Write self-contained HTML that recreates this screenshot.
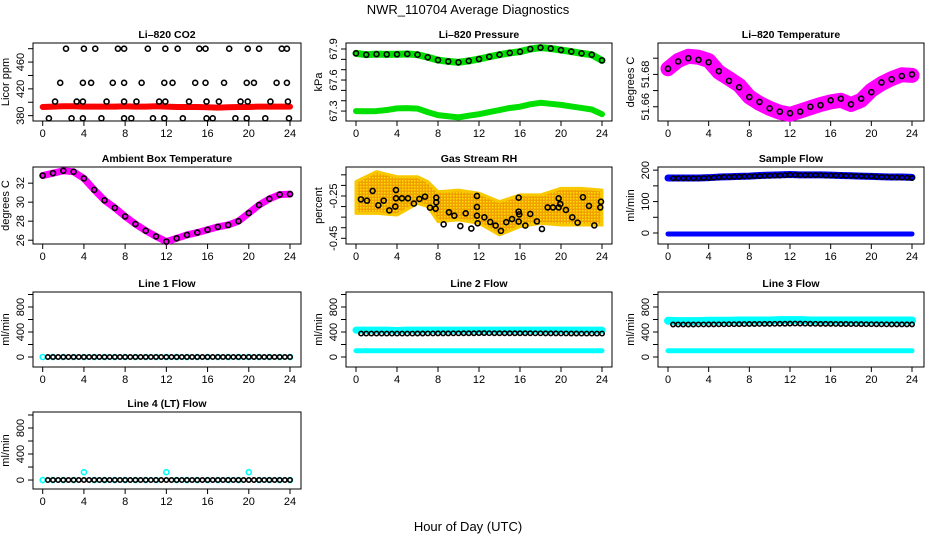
<!DOCTYPE html>
<html><head><meta charset="utf-8"><style>
html,body{margin:0;padding:0;background:#fff;}
svg{display:block;font-family:"Liberation Sans",Arial,sans-serif;}
</style></head><body>
<svg id="chart" width="936" height="540" viewBox="0 0 936 540">
<defs>
<pattern id="rhpat" width="3" height="3" patternUnits="userSpaceOnUse"><rect width="3" height="3" fill="#f0a000"/><rect width="1.5" height="1.5" fill="#ffe000"/></pattern>
</defs>
<text x="468" y="14" font-size="13" text-anchor="middle">NWR_110704  Average Diagnostics</text>
<text x="468" y="531" font-size="13" text-anchor="middle">Hour of Day (UTC)</text>
</svg>
<script>
const hours = [0,1,2,3,4,5,6,7,8,9,10,11,12,13,14,15,16,17,18,19,20,21,22,23,24];
const halfHours = [0.5,1,1.5,2,2.5,3,3.5,4,4.5,5,5.5,6,6.5,7,7.5,8,8.5,9,9.5,10,10.5,11,11.5,12,12.5,13,13.5,14,14.5,15,15.5,16,16.5,17,17.5,18,18.5,19,19.5,20,20.5,21,21.5,22,22.5,23,23.5,24];
const xTicks = [0,4,8,12,16,20,24];
// CO2
const co2Red = [393,393.5,394,394,393.5,393.5,393.5,393.5,394,393.5,393.5,394,393.5,393,393,393,392.5,392,392.5,393,393,393.5,393.5,393.5,393.5];
const co2BlackX = [2.26,4.0,5.1,7.3,7.9,10.2,11.9,13.1,15.2,15.8,18.1,19.9,21.0,23.2,23.7,1.7,3.9,4.7,6.8,7.9,9.6,11.8,12.6,14.8,15.8,17.6,19.8,20.5,22.7,23.7,1.2,3.3,3.9,6.2,7.9,9.1,11.3,11.9,14.2,15.9,17.1,19.2,19.9,22.1,23.8,0.6,2.8,3.9,5.7,7.9,8.6,10.7,11.8,13.6,15.9,16.5,18.7,19.8,21.6,23.9];
const co2BlackY = [480,480,480,480,480,480,480,480,480,480,480,480,480,480,480,429,429,429,429,429,429,429,429,429,429,429,429,429,429,429,401,401,401,401,401,401,401,401,401,401,401,401,401,401,401,376,376,376,376,376,376,376,376,376,376,376,376,376,376,376];
// Pressure
const presHours = [0,1,2,3,4,5,6,7,8,9,10,11,12,13,14,15,16,17,18,19,20,21,22,23,24];
const presUpper = [67.858,67.845,67.85,67.848,67.849,67.852,67.845,67.82,67.793,67.78,67.771,67.785,67.803,67.825,67.845,67.862,67.874,67.9,67.913,67.905,67.89,67.875,67.858,67.845,67.79];
const presLower = [67.3,67.298,67.3,67.31,67.326,67.328,67.324,67.29,67.261,67.25,67.239,67.255,67.27,67.29,67.31,67.33,67.342,67.365,67.38,67.37,67.36,67.345,67.33,67.315,67.27];
// Temperature
const tempVals = [51.6835,51.6886,51.6912,51.6906,51.6886,51.6814,51.6774,51.6733,51.6661,51.6621,51.659,51.6566,51.6553,51.6573,51.6594,51.6614,51.663,51.664,51.6614,51.664,51.6702,51.6743,51.6774,51.6798,51.6794];
const tempBlack = [51.6835,51.6880,51.6900,51.6890,51.6875,51.6820,51.6760,51.6720,51.6660,51.6630,51.6590,51.6570,51.6560,51.6570,51.6600,51.6610,51.6640,51.6650,51.6615,51.6650,51.6690,51.6750,51.6770,51.6790,51.6800];
// Ambient
const ambVals = [32.8,33.05,33.3,33.2,32.5,31.3,30.2,29.4,28.5,27.7,27.0,26.4,25.85,26.2,26.55,26.8,27.1,27.4,27.6,28.0,28.85,29.7,30.35,30.8,30.85];
// RH
const rhHours = [0,2,4,6,7,8,10,12,14,16,18,20,22,24];
const rhHi = [-0.182,-0.135,-0.159,-0.159,-0.182,-0.23,-0.222,-0.237,-0.277,-0.245,-0.245,-0.214,-0.214,-0.222];
const rhLo = [-0.332,-0.332,-0.34,-0.285,-0.30,-0.371,-0.363,-0.379,-0.434,-0.395,-0.379,-0.387,-0.387,-0.387];
const rhBlackX = [0.48,1.07,1.62,2.18,2.70,3.25,3.83,3.90,3.90,4.48,5.07,5.65,6.18,6.73,7.22,7.77,7.83,7.83,8.55,9.07,9.59,10.18,10.7,11.25,11.8,11.8,11.8,11.87,12.52,13.1,13.62,14.14,14.66,15.22,15.87,15.87,15.87,15.93,16.52,17.0,17.65,18.14,18.7,19.22,19.77,19.77,19.93,20.48,21.1,21.62,22.14,22.73,23.25,23.83,23.9];
const rhBlackY = [-0.266,-0.272,-0.226,-0.294,-0.272,-0.318,-0.300,-0.261,-0.222,-0.261,-0.261,-0.286,-0.264,-0.253,-0.305,-0.310,-0.280,-0.258,-0.384,-0.327,-0.343,-0.392,-0.332,-0.404,-0.25,-0.302,-0.343,-0.379,-0.351,-0.373,-0.390,-0.415,-0.374,-0.359,-0.258,-0.324,-0.371,-0.337,-0.390,-0.335,-0.370,-0.406,-0.304,-0.304,-0.304,-0.261,-0.288,-0.316,-0.351,-0.376,-0.256,-0.297,-0.389,-0.304,-0.277];
// Sample flow
const sampleUpper = [175,175,175,175,176,178,179,180,181,183,184,185,186,185,185,185,184,183,182,181,180,179,178,178,177];
const sampleLower = [-3,-3,-3,-3,-3,-3,-3,-3,-3,-3,-3,-3,-3,-3,-3,-3,-3,-3,-3,-3,-3,-3,-3,-3,-3];
const sampleBlack = [174,174,174,174,174,174,175,175,176,177,178,178,179,179,180,180,181,181,182,182,183,183,184,185,185,184,184,184,184,184,183,183,183,183,182,182,181,181,180,180,179,178,178,177,177,176,176,175];
// Line flows
const line1Cyan = [0,0,0,0,0,0,0,0,0,0,0,0,0,0,0,0,0,0,0,0,0,0,0,0,0];
const line1Black = [0,0,0,0,0,0,0,0,0,0,0,0,0,0,0,0,0,0,0,0,0,0,0,0,0,0,0,0,0,0,0,0,0,0,0,0,0,0,0,0,0,0,0,0,0,0,0,0];
const line2Upper = [430,430,430,430,425,430,430,430,430,430,430,430,430,430,430,430,430,430,430,430,430,430,430,430,430];
const line2Lower = [100,100,100,100,100,100,100,100,100,100,100,100,100,100,100,100,100,100,100,100,100,100,100,100,100];
const line2Black = [375,375,375,375,375,375,375,375,375,375,375,376,376,377,377,378,378,378,379,379,380,380,380,382,382,381,380,380,380,380,380,380,380,380,379,379,378,378,378,377,377,376,376,375,375,375,375,375];
const line3Upper = [580,575,575,575,580,580,580,585,585,585,585,590,590,590,585,585,585,585,585,585,585,585,585,585,585];
const line3Lower = [100,100,100,100,100,100,100,100,100,100,100,100,100,100,100,100,100,100,100,100,100,100,100,100,100];
const line3Black = [520,520,520,520,520,521,521,522,522,523,523,525,525,526,527,528,528,529,530,530,531,532,532,534,535,534,533,532,531,530,530,530,529,528,528,527,527,526,525,525,524,523,523,522,522,522,522,522];
const line4Cyan = [0,0,0,0,120,0,0,0,0,0,0,0,120,0,0,0,0,0,0,0,120,0,0,0,0];
const line4Black = [0,0,0,0,0,0,0,0,0,0,0,0,0,0,0,0,0,0,0,0,0,0,0,0,0,0,0,0,0,0,0,0,0,0,0,0,0,0,0,0,0,0,0,0,0,0,0,0];

const NS='http://www.w3.org/2000/svg';
const svg=document.getElementById('chart');
function mk(tag,attrs,parent){const e=document.createElementNS(NS,tag);for(const k in attrs)e.setAttribute(k,attrs[k]);(parent||svg).appendChild(e);return e;}
const cols=[{l:33,r:301,h0:42.7,h24:290},{l:346,r:612,h0:356,h24:602},{l:658,r:924,h0:668,h24:912}];
const rows=[{t:43,b:121},{t:167,b:244},{t:292,b:367},{t:412,b:489}];

function panel(name,title,ci,ri,ymin,ymax,ylabel,yTicks,yLabels){
  const c=cols[ci],r=rows[ri];
  const g=mk('g',{});
  
  
  const sx=h=>c.h0+(h/24)*(c.h24-c.h0);
  const sy=v=>r.b-(v-ymin)/(ymax-ymin)*(r.b-r.t);
  const t=mk('text',{x:(c.l+c.r)/2,y:r.t-5,'font-size':10.5,'font-weight':'bold','text-anchor':'middle'},g);
  t.textContent=title;
  
  
  const box=mk('rect',{x:c.l,y:r.t,width:c.r-c.l,height:r.b-r.t,fill:'none',stroke:'#000','stroke-width':1},g);
  
  
  const xa=mk('g',{},g);
  
  
  mk('line',{x1:sx(0),x2:sx(24),y1:r.b,y2:r.b,stroke:'#000'},xa);
  xTicks.forEach(h=>{mk('line',{x1:sx(h),x2:sx(h),y1:r.b,y2:r.b+5,stroke:'#000'},xa);
    const tl=mk('text',{x:sx(h),y:r.b+16,'font-size':11,'text-anchor':'middle'},xa);tl.textContent=h;
    
    });
  const ya=mk('g',{},g);
  
  
  mk('line',{x1:c.l,x2:c.l,y1:sy(yTicks[0]),y2:sy(yTicks[yTicks.length-1]),stroke:'#000'},ya);
  yTicks.forEach(v=>mk('line',{x1:c.l-5,x2:c.l,y1:sy(v),y2:sy(v),stroke:'#000'},ya));
  yLabels.forEach(v=>{const y=sy(v);const tl=mk('text',{x:c.l-9,y:y,'font-size':11,'text-anchor':'middle',transform:`rotate(-90 ${c.l-9} ${y})`},ya);tl.textContent=v;
    
    });
  const yt=mk('text',{x:c.l-24,y:(r.t+r.b)/2,'font-size':11,'text-anchor':'middle',transform:`rotate(-90 ${c.l-24} ${(r.t+r.b)/2})`},g);
  yt.textContent=ylabel;
  
  
  return {g,sx,sy};
}
function band(p,xs,ys,color,w,name){
  const pts=xs.map((h,i)=>p.sx(h)+','+p.sy(ys[i])).join(' ');
  const e=mk('polyline',{points:pts,fill:'none',stroke:color,'stroke-width':w,'stroke-linejoin':'round','stroke-linecap':'round'},p.g);
  
  
}
function dots(p,xs,ys,color,name,rad){
  xs.forEach((h,i)=>{const e=mk('circle',{cx:p.sx(h),cy:p.sy(ys[i]),r:rad||2.5,fill:'none',stroke:color,'stroke-width':1.6},p.g);
    
    });
}

let p;
p=panel('co2-panel','Li–820 CO2',0,0,372,488.5,'Licor ppm',[380,400,420,440,460,480],[380,420,460]);
band(p,hours,co2Red,'#ff0000',6,'co2-red-series');
dots(p,co2BlackX,co2BlackY,'#000','co2-point');

p=panel('pressure-panel','Li–820 Pressure',1,0,67.204,67.958,'kPa',[67.3,67.4,67.5,67.6,67.7,67.8,67.9],[67.3,67.6,67.9]);
band(p,presHours,presUpper,'#00e000',7,'pressure-upper-series');
band(p,presHours,presLower,'#00e000',6,'pressure-lower-series');
dots(p,presHours,presUpper,'#000','pressure-point',2.5);

p=panel('temperature-panel','Li–820 Temperature',2,0,51.6512,51.6994,'degrees C',[51.66,51.67,51.68,51.69],[51.66,51.68]);
band(p,hours,tempVals,'#ff00ff',15,'temperature-series');
dots(p,hours,tempBlack,'#000','temperature-point');

p=panel('ambient-panel','Ambient Box Temperature',0,1,25.6,33.7,'degrees C',[26,28,30,32],[26,28,30,32]);
band(p,hours,ambVals,'#ff00ff',7,'ambient-series');
dots(p,hours,ambVals,'#000','ambient-point');

p=panel('rh-panel','Gas Stream RH',1,1,-0.477,-0.113,'percent',[-0.45,-0.4,-0.35,-0.3,-0.25,-0.2,-0.15],[-0.45,-0.25]);
{const pts=rhHours.map((h,i)=>p.sx(h)+','+p.sy(rhHi[i])).concat(rhHours.slice().reverse().map((h,i)=>p.sx(h)+','+p.sy(rhLo[rhHours.length-1-i]))).join(' ');
 const e=mk('polygon',{points:pts,fill:'url(#rhpat)',stroke:'#f8c800','stroke-width':3,'stroke-linejoin':'round'},p.g);
 
 }
dots(p,rhBlackX,rhBlackY,'#000','rh-point');

p=panel('sample-flow-panel','Sample Flow',2,1,-35,210,'ml/min',[0,50,100,150,200],[0,100,200]);
band(p,hours,sampleUpper,'#0000ff',7,'sample-upper-series');
band(p,hours,sampleLower,'#0000ff',5,'sample-lower-series');
dots(p,halfHours,sampleBlack,'#000','sample-point',2.2);

const flowTicks=[0,200,400,600,800,1000],flowLabels=[0,400,800];
p=panel('line1-panel','Line 1 Flow',0,2,-160,1040,'ml/min',flowTicks,flowLabels);
dots(p,hours,line1Cyan,'#00ffff','line1-cyan-point');
dots(p,halfHours,line1Black,'#000','line1-point',2.2);

p=panel('line2-panel','Line 2 Flow',1,2,-160,1040,'ml/min',flowTicks,flowLabels);
band(p,hours,line2Upper,'#00ffff',7,'line2-upper-series');
band(p,hours,line2Lower,'#00ffff',5,'line2-lower-series');
dots(p,halfHours,line2Black,'#000','line2-point',2.2);

p=panel('line3-panel','Line 3 Flow',2,2,-160,1040,'ml/min',flowTicks,flowLabels);
band(p,hours,line3Upper,'#00ffff',8,'line3-upper-series');
band(p,hours,line3Lower,'#00ffff',5,'line3-lower-series');
dots(p,halfHours,line3Black,'#000','line3-point',2.2);

p=panel('line4-panel','Line 4 (LT) Flow',0,3,-138,1046,'ml/min',flowTicks,flowLabels);
dots(p,hours,line4Cyan,'#00ffff','line4-cyan-point');
dots(p,halfHours,line4Black,'#000','line4-point',2.2);
</script>
</body></html>
